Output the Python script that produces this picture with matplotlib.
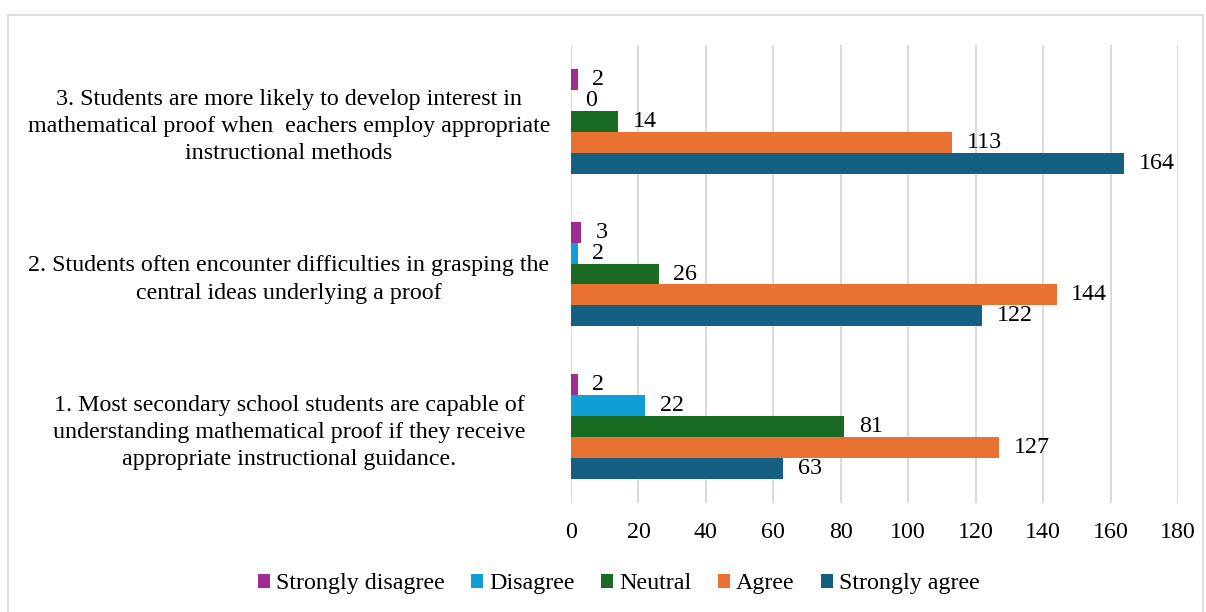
import numpy as np
from matplotlib import pyplot as plt
from matplotlib.patches import Rectangle

plt.rcParams["font.family"] = ["Liberation Serif", "DejaVu Serif"]

# categories from bottom to top
categories = [
    "1. Most secondary school students are capable of\nunderstanding mathematical proof if they receive\nappropriate instructional guidance.",
    "2. Students often encounter difficulties in grasping the\ncentral ideas underlying a proof",
    "3. Students are more likely to develop interest in\nmathematical proof when  eachers employ appropriate\ninstructional methods",
]
series_names = ["Strongly disagree", "Disagree", "Neutral", "Agree", "Strongly agree"]
strongly_disagree = [2, 3, 2]
disagree = [22, 2, 0]
neutral = [81, 26, 14]
agree = [127, 144, 113]
strongly_agree = [63, 122, 164]
series_values = [strongly_disagree, disagree, neutral, agree, strongly_agree]
series_colors = ["#A02B93", "#0F9ED5", "#196B24", "#E97132", "#156082"]
x_ticks = [0, 20, 40, 60, 80, 100, 120, 140, 160, 180]

fs = 17.3
fig = plt.figure(figsize=(12.06, 6.12), dpi=100)
ax = fig.add_axes([571 / 1206, 1 - 503 / 612, (1178 - 571) / 1206, (503 - 45) / 612])

# light grey frame round the whole chart
fig.patches.append(Rectangle((8 / 1206, -0.05), (1203 - 8) / 1206, 1.05 - 15 / 612,
                             transform=fig.transFigure, fill=False,
                             edgecolor="#D9D9D9", linewidth=1.2))

y = np.arange(len(categories))
h = 0.1375
for i, (name, vals, col) in enumerate(zip(series_names, series_values, series_colors)):
    pos = y + (2 - i) * h
    bars = ax.barh(pos, vals, height=h, color=col, label=name, zorder=3)
    ax.bar_label(bars, labels=[str(v) for v in vals], padding=10.5,
                 fontsize=fs, color="black")

ax.set_xlim(0, 180)
ax.set_ylim(-0.5, 2.5)
ax.set_xticks(x_ticks)
ax.xaxis.grid(True, color="#D9D9D9", linewidth=1.4, zorder=0)
ax.tick_params(axis="x", length=0, labelsize=fs, pad=14)
ax.set_yticks(y)
ax.set_yticklabels(categories, fontsize=fs, ha="center", multialignment="center",
                   linespacing=1.38)
ax.tick_params(axis="y", length=0, pad=203)
for s in ax.spines.values():
    s.set_visible(False)

handles, labels = ax.get_legend_handles_labels()
fig.legend(handles, labels, loc="center", bbox_to_anchor=(0.513, 0.046), ncol=5,
           frameon=False, fontsize=fs, handlelength=0.5, handleheight=0.5,
           handletextpad=0.25, columnspacing=1.1)

fig.savefig("out.png", dpi=100)
